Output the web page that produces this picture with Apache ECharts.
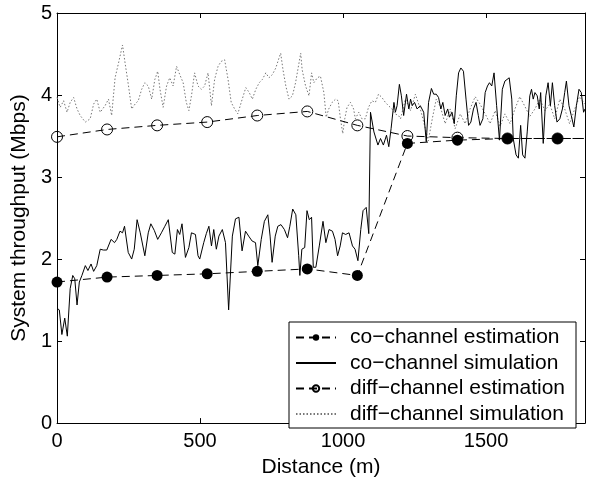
<!DOCTYPE html>
<html>
<head>
<meta charset="utf-8">
<script src="https://cdn.jsdelivr.net/npm/echarts@6/dist/echarts.min.js"></script>
<style>html,body{margin:0;padding:0;background:#fff}#c{width:602px;height:483px}</style>
</head>
<body>
<div id="c"></div>
<script>
// ---- data (distance in m, throughput in Mbps) ----
var xTicks = [0, 500, 1000, 1500];
var yTicks = [0, 1, 2, 3, 4, 5];
var xMax = 1846;
var seriesNames = ['co\u2212channel estimation', 'co\u2212channel simulation', 'diff\u2212channel estimation', 'diff\u2212channel simulation'];

var estX = [0, 175, 350, 525, 700, 875, 1050, 1225, 1400, 1575, 1750, 1846];
var coEstY = [1.72, 1.78, 1.80, 1.82, 1.85, 1.88, 1.80, 3.41, 3.45, 3.47, 3.47, 3.47];
var diffEstY = [3.49, 3.58, 3.63, 3.67, 3.75, 3.80, 3.63, 3.50, 3.48, 3.47, 3.47, 3.47];

var coSim = [
[0,1.40],[8,1.38],[17,1.08],[27,1.28],[36,1.06],[46,1.64],[55,1.80],[62,1.76],[70,1.44],[78,1.72],
[87,1.80],[99,1.92],[108,1.86],[119,1.94],[128,1.85],[139,1.92],[151,2.12],[162,2.11],[174,2.11],[189,2.24],
[201,2.20],[209,2.24],[220,2.34],[229,2.32],[236,2.40],[249,2.08],[261,2.00],[270,2.12],[280,2.48],[291,2.32],
[307,2.04],[319,2.32],[328,2.43],[340,2.35],[352,2.24],[365,2.32],[377,2.40],[389,2.48],[403,2.08],[412,2.06],
[421,2.36],[429,2.30],[437,2.43],[449,2.02],[461,2.14],[470,2.32],[484,2.30],[493,2.04],[499,2.00],[513,2.20],
[522,2.31],[531,2.40],[540,2.16],[548,2.36],[557,2.12],[566,2.28],[578,2.36],[589,2.20],[600,1.38],[613,2.28],
[624,2.49],[636,2.51],[647,2.10],[659,2.34],[670,2.28],[682,2.22],[694,2.20],[702,1.92],[714,2.24],[725,2.46],
[737,2.54],[745,2.28],[752,1.96],[763,2.28],[772,2.40],[783,2.42],[795,2.36],[806,2.26],[814,2.40],[824,2.61],
[835,2.54],[845,2.04],[849,1.80],[856,2.12],[866,2.14],[874,2.59],[882,2.48],[890,2.51],[896,1.90],[905,1.90],
[917,2.16],[930,2.46],[940,2.20],[951,2.36],[963,2.34],[972,2.24],[981,2.04],[990,2.16],[998,2.32],[1009,2.30],
[1021,2.32],[1033,2.16],[1042,2.12],[1052,1.98],[1062,2.36],[1070,2.59],[1081,2.63],[1090,2.31],[1096,3.79],[1108,3.55],
[1122,3.39],[1131,3.47],[1141,3.39],[1152,3.51],[1160,3.37],[1168,3.59],[1178,3.91],[1183,3.79],[1189,3.87],[1197,4.13],
[1204,3.99],[1212,3.75],[1222,4.01],[1230,3.83],[1236,3.95],[1242,3.87],[1250,3.91],[1259,3.83],[1270,3.87],[1282,3.79],
[1291,3.43],[1299,3.91],[1309,4.08],[1317,4.01],[1326,4.01],[1334,3.97],[1342,3.83],[1349,3.91],[1357,3.75],[1366,3.83],
[1372,3.73],[1381,3.79],[1389,3.65],[1396,3.99],[1404,4.27],[1412,4.33],[1421,4.29],[1430,3.95],[1439,3.63],[1447,3.67],
[1456,3.83],[1465,3.91],[1473,3.75],[1479,3.63],[1489,3.71],[1497,4.03],[1505,4.11],[1512,4.15],[1520,4.11],[1528,4.27],
[1537,3.87],[1547,3.45],[1557,4.07],[1566,4.17],[1581,4.21],[1590,3.95],[1595,3.47],[1605,3.27],[1613,3.23],[1621,3.63],
[1628,3.27],[1636,3.23],[1644,3.55],[1653,3.99],[1659,4.07],[1665,3.95],[1671,4.03],[1679,3.99],[1686,3.83],[1691,4.03],
[1700,3.41],[1709,3.99],[1717,4.15],[1725,3.87],[1732,4.15],[1740,3.87],[1748,3.67],[1758,3.71],[1767,3.83],[1775,4.03],
[1781,4.17],[1790,3.87],[1798,3.75],[1807,3.61],[1816,3.87],[1825,4.07],[1833,4.03],[1841,3.79],[1846,3.83]
];

var diffSimX = [
0,11,23,35,46,58,70,81,99,116,
128,139,151,168,180,191,203,215,229,238,
250,261,273,284,296,307,319,331,342,352,
360,371,383,394,406,418,429,441,452,461,
470,481,493,505,516,528,540,551,563,574,
586,598,609,621,632,644,660,672,683,695,
707,718,730,741,753,765,776,782,790,800,
811,823,834,846,852,857,869,881,890,898,
910,921,933,941,950,962,974,983,991,999,
1006,1014,1026,1037,1043,1055,1066,1078,1089,1101,
1113,1124,1136,1148,1159,1171,1182,1194,1201,1218,
1236,1253,1270,1288,1298,1312,1326,1340,1357,1375,
1392,1410,1427,1444,1462,1479,1497,1514,1532,1549,
1566,1584,1601,1618,1636,1653,1671,1688,1706,1723,
1740,1758,1775,1792,1810,1827,1845];
var diffSimY = [
3.97,3.85,3.93,3.79,3.91,3.97,3.83,3.75,3.67,3.71,
3.89,3.95,3.79,3.87,3.95,3.75,4.21,4.39,4.61,4.39,
4.11,3.83,3.89,3.93,4.07,4.15,4.11,3.95,4.19,4.29,
4.07,3.85,4.11,4.21,4.11,4.35,4.25,4.15,3.91,3.81,
3.99,4.27,4.11,4.07,4.11,4.27,3.87,4.19,4.35,4.41,
4.43,4.19,3.91,3.83,3.77,3.91,4.09,4.03,3.95,4.07,
4.15,4.19,4.27,4.21,4.25,4.33,4.45,4.51,4.31,4.11,
3.95,3.99,4.15,4.39,4.51,4.31,4.11,3.99,4.27,4.15,
4.21,4.23,4.03,3.73,3.83,3.91,3.95,3.93,3.71,3.53,
3.71,3.85,3.91,3.83,3.71,3.79,3.71,3.71,3.85,3.93,
3.91,4.01,3.97,3.91,3.87,3.83,3.77,3.75,3.71,3.95,
3.81,4.01,3.83,3.59,3.44,3.71,3.95,3.86,3.65,3.83,
3.59,3.77,3.65,3.83,3.98,3.89,3.77,3.65,3.81,3.62,
3.77,3.65,3.83,3.98,3.86,3.74,3.83,3.95,3.81,3.89,
3.71,3.95,3.83,3.65,3.83,3.98,3.89];

// ---- build ----
var FONT = '"Liberation Sans", Arial, Helvetica, sans-serif';
function estData(ys) {
  return estX.map(function (x, i) {
    var item = { value: [x, ys[i]] };
    if (i === estX.length - 1) item.symbol = 'none';
    return item;
  });
}
var diffSim = diffSimX.map(function (x, i) { return [x, diffSimY[i]]; });

function axisCommon(extra) {
  var base = {
    axisLine: { show: true, onZero: false, lineStyle: { color: '#000', width: 1 } },
    axisTick: { show: true, inside: true, length: 5, lineStyle: { color: '#000', width: 1 } },
    splitLine: { show: false }
  };
  return Object.assign(base, extra);
}

var chart = echarts.init(document.getElementById('c'), null, { renderer: 'canvas' });
chart.setOption({
  animation: false,
  backgroundColor: '#fff',
  grid: { left: 55, right: 17, top: 13, bottom: 53, containLabel: false },
  xAxis: [
    axisCommon({
      type: 'value', min: 0, max: xMax, interval: 500, position: 'bottom',
      name: 'Distance (m)', nameLocation: 'middle', nameGap: 27,
      nameTextStyle: { fontFamily: FONT, fontSize: 21, color: '#000', lineHeight: 22 },
      axisLabel: {
        fontFamily: FONT, fontSize: 20, color: '#000', margin: 8,
        formatter: function (v) { return xTicks.indexOf(v) >= 0 ? String(v) : ''; }
      }
    }),
    axisCommon({
      type: 'value', min: 0, max: xMax, interval: 500, position: 'top',
      axisLabel: { show: false }
    })
  ],
  yAxis: [
    axisCommon({
      type: 'value', min: 0, max: 5, interval: 1, position: 'left',
      name: 'System throughput (Mbps)', nameLocation: 'middle', nameGap: 21, nameRotate: 90,
      nameTextStyle: { fontFamily: FONT, fontSize: 21, color: '#000', lineHeight: 22 },
      axisLabel: {
        fontFamily: FONT, fontSize: 20, color: '#000', margin: 5,
        formatter: function (v) { return yTicks.indexOf(v) >= 0 ? String(v) : ''; }
      }
    }),
    axisCommon({
      type: 'value', min: 0, max: 5, interval: 1, position: 'right',
      axisLabel: { show: false }
    })
  ],
  legend: {
    orient: 'vertical', left: 289, top: 322,
    itemWidth: 40, itemHeight: 8, itemGap: 4.5,
    padding: [5, 11, 3.5, 6],
    borderColor: '#000', borderWidth: 1, backgroundColor: '#fff',
    textStyle: { fontFamily: FONT, fontSize: 21, color: '#000', lineHeight: 20, padding: [0, 0, 0, 9] },
    data: [
      { name: seriesNames[0] },
      { name: seriesNames[1], itemStyle: { color: 'rgba(0,0,0,0)', borderWidth: 0, borderColor: 'rgba(0,0,0,0)' } },
      { name: seriesNames[2] },
      { name: seriesNames[3], itemStyle: { color: 'rgba(0,0,0,0)', borderWidth: 0, borderColor: 'rgba(0,0,0,0)' } }
    ]
  },
  series: [
    {
      name: seriesNames[0], type: 'line', data: estData(coEstY), z: 5,
      symbol: 'circle', symbolSize: 11,
      itemStyle: { color: '#000' },
      lineStyle: { color: '#000', width: 1, type: [8, 5] }
    },
    {
      name: seriesNames[1], type: 'line', data: coSim, z: 3,
      symbol: 'none', showSymbol: false,
      itemStyle: { color: '#000' },
      lineStyle: { color: '#000', width: 1 }
    },
    {
      name: seriesNames[2], type: 'line', data: estData(diffEstY), z: 4,
      symbol: 'circle', symbolSize: 11,
      itemStyle: { color: 'rgba(0,0,0,0)', borderColor: '#000', borderWidth: 1 },
      lineStyle: { color: '#000', width: 1, type: [8, 5] }
    },
    {
      name: seriesNames[3], type: 'line', data: diffSim, z: 2,
      symbol: 'none', showSymbol: false,
      itemStyle: { color: '#777' },
      lineStyle: { color: '#777', width: 1, type: [1.5, 2] }
    }
  ]
});
</script>
</body>
</html>
